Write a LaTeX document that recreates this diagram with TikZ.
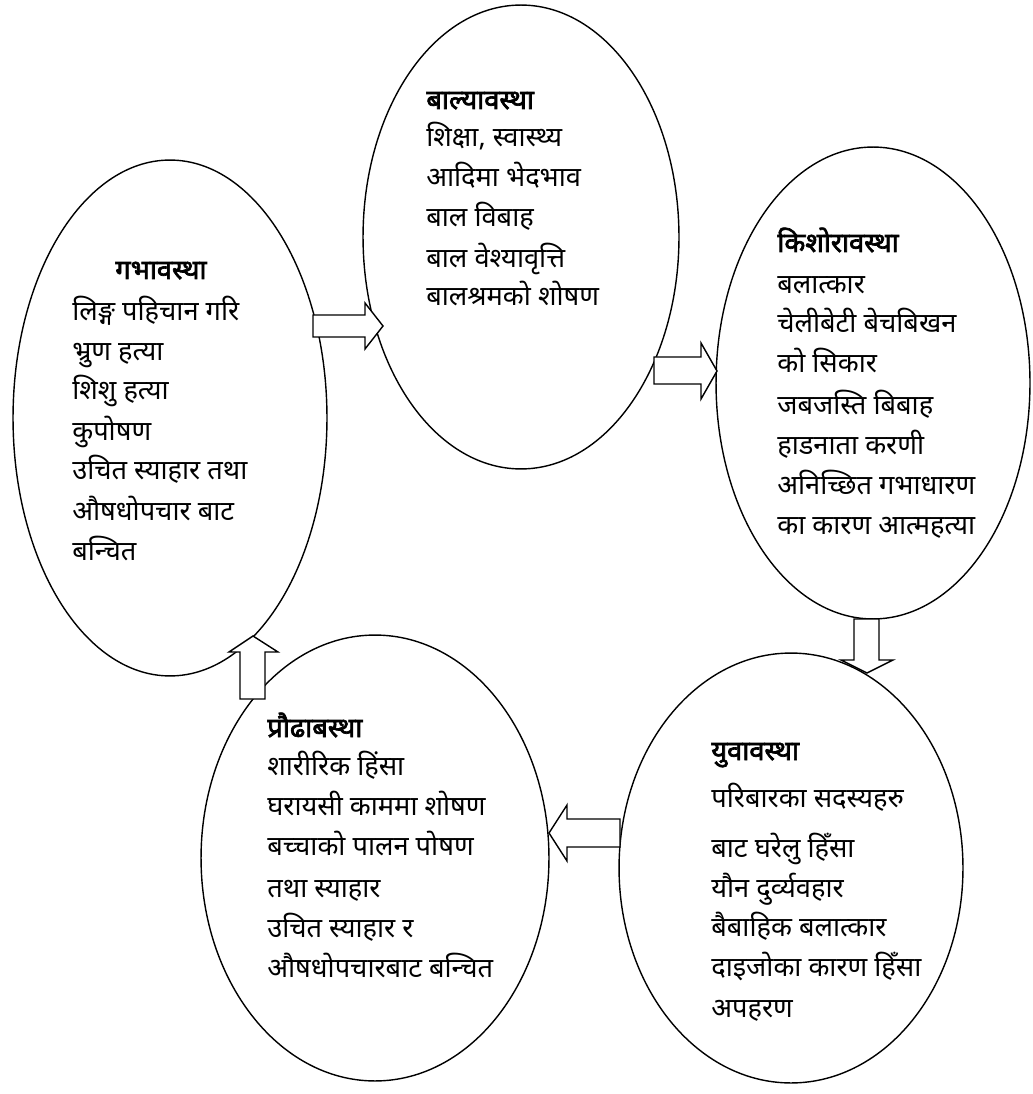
\documentclass[tikz,border=0pt]{standalone}
\usepackage{fontspec}
\newfontfamily\nepfont[Script=Devanagari]{Noto Sans}
\newfontfamily\nepbold[Script=Devanagari, FakeBold=2.5]{Noto Sans}
\usetikzlibrary{shapes.geometric}

\tikzset{
  stage/.style={ellipse, draw, line width=0.8pt, inner sep=0pt},
  blockarr/.style={draw, fill=white, line width=0.8pt, line join=miter},
  txt/.style={anchor=base west, inner sep=0pt, font=\nepfont\fontsize{15.5}{18}\selectfont},
  ttl/.style={txt, font=\nepbold\fontsize{15.5}{18}\selectfont},
}

\begin{document}
\begin{tikzpicture}[x=0.02cm, y=-0.02cm]
\useasboundingbox (0,0) rectangle (1032,1094);
% five stages of life, drawn as ellipses (pixel grid, y downwards)
\node[stage, minimum width=6.28cm, minimum height=10.32cm] (garbha) at (170,418) {};
\node[stage, minimum width=6.32cm, minimum height=9.28cm] (balya) at (521,237) {};
\node[stage, minimum width=6.28cm, minimum height=9.44cm] (kishor) at (873,383) {};
\node[stage, minimum width=6.88cm, minimum height=8.6cm] (yuva) at (791,868) {};
\node[stage, minimum width=6.96cm, minimum height=8.92cm] (praudha) at (375,858) {};

% block arrows between the stages
\draw[blockarr] (313,315) -- (365,315) -- (365,303) -- (383,326) -- (365,349) -- (365,337) -- (313,337) -- cycle; % garbha -> balya
\draw[blockarr] (654,357) -- (701,357) -- (701,343) -- (717,371) -- (701,399) -- (701,384) -- (654,384) -- cycle; % balya -> kishor
\draw[blockarr] (854,619) -- (854,660) -- (841,660) -- (867,673) -- (893,660) -- (879,660) -- (879,619) -- cycle; % kishor -> yuva
\draw[blockarr] (620,819) -- (567,819) -- (567,805) -- (549,833) -- (567,861) -- (567,847) -- (620,847) -- cycle; % yuva -> praudha
\draw[blockarr] (240,699) -- (240,652) -- (229,652) -- (253,636) -- (278,652) -- (265,652) -- (265,699) -- cycle; % praudha -> garbha

% garbha
\node[ttl] (gt) at (115,279) {गभावस्था};
\foreach \y/\t [count=\i] in {321/लिङ्ग पहिचान गरि, 360/भ्रुण हत्या, 399/शिशु हत्या, 440/कुपोषण,
    479/उचित स्याहार तथा, 520/औषधोपचार बाट, 560/बन्चित}
  \node[txt] (g\i) at (72,\y) {\t};

% balya
\node[ttl] (bt) at (426,109) {बाल्यावस्था};
\foreach \y/\t [count=\i] in {147/{शिक्षा, स्वास्थ्य}, 187/आदिमा भेदभाव, 227/बाल विबाह,
    268/बाल वेश्यावृत्ति, 306/बालश्रमको शोषण}
  \node[txt] (b\i) at (426,\y) {\t};

% kishor
\node[ttl] (kt) at (777,252) {किशोरावस्था};
\foreach \y/\t [count=\i] in {294/बलात्कार, 333/चेलीबेटी बेचबिखन, 373/को सिकार, 414/जबजस्ति बिबाह,
    454/हाडनाता करणी, 494/अनिच्छित गभाधारण, 534/का कारण आत्महत्या}
  \node[txt] (k\i) at (777,\y) {\t};

% yuva
\node[ttl] (yt) at (711,760) {युवावस्था};
\foreach \y/\t [count=\i] in {807/परिबारका सदस्यहरु, 857/बाट घरेलु हिँसा, 897/यौन दुर्व्यवहार,
    936/बैबाहिक बलात्कार, 976/दाइजोका कारण हिँसा, 1017/अपहरण}
  \node[txt] (y\i) at (711,\y) {\t};

% praudha
\node[ttl] (pt) at (267,737) {प्रौढाबस्था};
\foreach \y/\t [count=\i] in {775/शारीरिक हिंसा, 815/घरायसी काममा शोषण, 855/बच्चाको पालन पोषण,
    897/तथा स्याहार, 937/उचित स्याहार र, 977/औषधोपचारबाट बन्चित}
  \node[txt] (p\i) at (267,\y) {\t};
\end{tikzpicture}
\end{document}
